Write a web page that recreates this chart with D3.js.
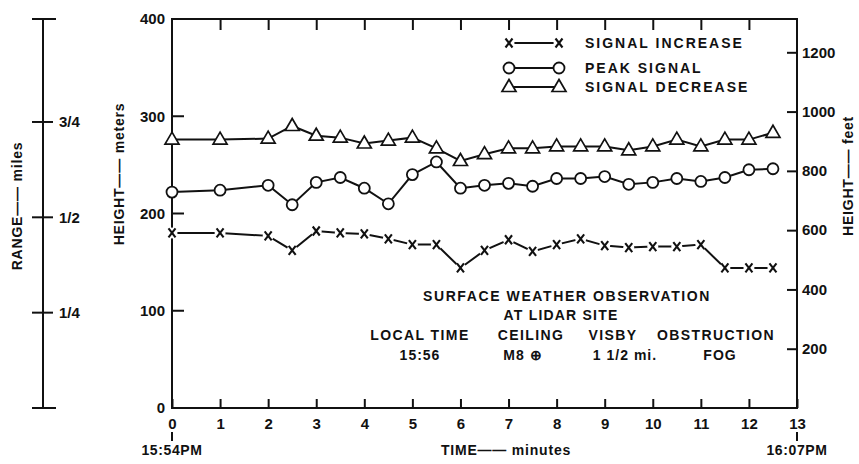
<!DOCTYPE html>
<html>
<head>
<meta charset="utf-8">
<script src="https://cdn.jsdelivr.net/npm/d3@7"></script>
<style>
  html, body { margin: 0; padding: 0; background: #fff; }
  svg text { font-family: "Liberation Sans", Arial, sans-serif; font-weight: bold; fill: #111; }
</style>
</head>
<body>
<svg id="chart" width="859" height="464"></svg>
<script>
// ---------- data ----------
const minutes = [0, 1, 2, 2.5, 3, 3.5, 4, 4.5, 5, 5.5, 6, 6.5, 7, 7.5, 8, 8.5, 9, 9.5, 10, 10.5, 11, 11.5, 12, 12.5];
const signalIncrease = [180, 180, 177, 162, 182, 180, 179, 174, 168, 168, 144, 162, 173, 161, 168, 174, 167, 165, 166, 166, 168, 144, 144, 144];
const peakSignal     = [222, 224, 229, 209, 232, 237, 226, 210, 240, 253, 226, 229, 231, 228, 236, 236, 238, 230, 232, 236, 233, 237, 245, 246];
const signalDecrease = [276, 276, 277, 290, 280, 278, 272, 275, 278, 267, 254, 261, 267, 267, 269, 269, 269, 265, 269, 276, 269, 276, 276, 283];

const xTicks = [0, 1, 2, 3, 4, 5, 6, 7, 8, 9, 10, 11, 12, 13];
const meterTicks = [0, 100, 200, 300, 400];
const feetTicks = [200, 400, 600, 800, 1000, 1200];
const rangeTicks = [0.25, 0.5, 0.75];
const rangeTickLabels = ["1/4", "1/2", "3/4"];
const legendLabels = ["SIGNAL INCREASE", "PEAK SIGNAL", "SIGNAL DECREASE"];
const obsHeaders = ["LOCAL TIME", "CEILING", "VISBY", "OBSTRUCTION"];
const obsValues = ["15:56", "M8 \u2295", "1 1/2 mi.", "FOG"];

// ---------- layout ----------
const svg = d3.select("#chart");
const L = 172, R = 797, T = 19, B = 408;
const x = d3.scaleLinear().domain([0, 13]).range([L, R]);
const y = d3.scaleLinear().domain([0, 400]).range([B, T]);
const yFeet = d3.scaleLinear().domain([0, 400 * 3.28084]).range([B, T]);
const yRange = d3.scaleLinear().domain([0, 1.02]).range([B, T]);

const ink = "#111";
const sw = 2;
const FS = 14;      // lettering
const NS = 15;      // numerals

// frame
svg.append("rect").attr("x", L).attr("y", T).attr("width", R - L).attr("height", B - T)
  .attr("fill", "none").attr("stroke", ink).attr("stroke-width", sw);

// bottom axis (ticks inside)
const gB = svg.append("g").attr("transform", `translate(0,${B})`)
  .call(d3.axisBottom(x).tickValues(xTicks).tickSize(-9).tickPadding(8).tickFormat(d3.format("d")));
gB.select(".domain").remove();
gB.selectAll("line").attr("stroke", ink).attr("stroke-width", sw);
gB.selectAll("text").attr("font-size", NS).attr("dy", "0.85em").attr("fill", ink)
  .style("font-family", "Liberation Sans").style("font-weight", "bold");

// top axis ticks (inside)
const gT = svg.append("g").attr("transform", `translate(0,${T})`)
  .call(d3.axisTop(x).tickValues(xTicks.slice(1, -1)).tickSize(-11).tickFormat(""));
gT.select(".domain").remove();
gT.selectAll("line").attr("stroke", ink).attr("stroke-width", sw);

// left axis meters
const gL = svg.append("g").attr("transform", `translate(${L},0)`)
  .call(d3.axisLeft(y).tickValues(meterTicks).tickSize(0).tickPadding(7));
gL.select(".domain").remove();
gL.selectAll("text").attr("font-size", NS).attr("fill", ink)
  .style("font-family", "Liberation Sans").style("font-weight", "bold");
svg.append("g").selectAll("line").data(meterTicks.slice(1, -1)).join("line")
  .attr("x1", L).attr("x2", L + 12).attr("y1", d => y(d)).attr("y2", d => y(d))
  .attr("stroke", ink).attr("stroke-width", sw);

// right axis feet
const gR = svg.append("g").attr("transform", `translate(${R},0)`)
  .call(d3.axisRight(yFeet).tickValues(feetTicks).tickSize(-10).tickPadding(6).tickFormat(d3.format("d")));
gR.select(".domain").remove();
gR.selectAll("line").attr("stroke", ink).attr("stroke-width", sw);
gR.selectAll("text").attr("font-size", NS).attr("x", 5).attr("fill", ink)
  .style("font-family", "Liberation Sans").style("font-weight", "bold");

// time markers under 0 and 13
const timeLabels = [[0, "15:54PM"], [13, "16:07PM"]];
svg.append("g").selectAll("line").data(timeLabels).join("line")
  .attr("x1", d => x(d[0])).attr("x2", d => x(d[0])).attr("y1", 432).attr("y2", 441)
  .attr("stroke", ink).attr("stroke-width", sw);
svg.append("g").selectAll("text").data(timeLabels).join("text")
  .attr("x", d => x(d[0])).attr("y", 455).attr("text-anchor", "middle")
  .attr("font-size", FS).attr("letter-spacing", 0.6).text(d => d[1]);

// axis titles
svg.append("text").attr("x", 506).attr("y", 455).attr("text-anchor", "middle")
  .attr("font-size", FS).attr("letter-spacing", 0.8).text("TIME\u2014\u2014 minutes");
svg.append("text").attr("transform", "translate(124,174) rotate(-90)").attr("text-anchor", "middle")
  .attr("font-size", FS).attr("letter-spacing", 0.8).text("HEIGHT\u2014\u2014 meters");
svg.append("text").attr("transform", "translate(853,176) rotate(-90)").attr("text-anchor", "middle")
  .attr("font-size", FS).attr("letter-spacing", 0.8).text("HEIGHT\u2014\u2014 feet");
svg.append("text").attr("transform", "translate(22,206) rotate(-90)").attr("text-anchor", "middle")
  .attr("font-size", FS).attr("letter-spacing", 0.8).text("RANGE\u2014\u2014 miles");

// range axis
const RX = 43;
svg.append("line").attr("x1", RX).attr("x2", RX).attr("y1", yRange(0)).attr("y2", yRange(1.02))
  .attr("stroke", ink).attr("stroke-width", sw);
svg.append("g").selectAll("line").data([0, 1.02]).join("line")
  .attr("x1", RX - 11).attr("x2", RX + 13).attr("y1", d => yRange(d)).attr("y2", d => yRange(d))
  .attr("stroke", ink).attr("stroke-width", sw);
svg.append("g").selectAll("line").data(rangeTicks).join("line")
  .attr("x1", RX - 11).attr("x2", RX + 10).attr("y1", d => yRange(d)).attr("y2", d => yRange(d))
  .attr("stroke", ink).attr("stroke-width", sw);
svg.append("g").selectAll("text").data(rangeTicks).join("text")
  .attr("x", RX + 16).attr("y", d => yRange(d)).attr("dy", "0.36em")
  .attr("font-size", NS).text((d, i) => rangeTickLabels[i]);

// ---------- series ----------
const series = [
  { name: legendLabels[0], values: signalIncrease, marker: "x" },
  { name: legendLabels[1], values: peakSignal, marker: "o" },
  { name: legendLabels[2], values: signalDecrease, marker: "t" }
];
const line = d3.line().x(d => x(d[0])).y(d => y(d[1]));

function drawMarker(g, type) {
  if (type === "x") {
    g.append("circle").attr("r", 5.5).attr("fill", "#fff");
    g.append("path").attr("d", "M-3.5,-4.5L3.5,4.5M3.5,-4.5L-3.5,4.5")
      .attr("stroke", ink).attr("stroke-width", 2.1).attr("fill", "none");
  } else if (type === "o") {
    g.append("circle").attr("r", 5.5).attr("fill", "#fff").attr("stroke", ink).attr("stroke-width", 1.8);
  } else {
    g.append("path").attr("d", "M0,-7.5L7,4.5L-7,4.5Z")
      .attr("fill", "#fff").attr("stroke", ink).attr("stroke-width", 1.7).attr("stroke-linejoin", "miter");
  }
}

series.forEach(s => {
  const pts = minutes.map((m, i) => [m, s.values[i]]);
  svg.append("path").datum(pts).attr("d", line)
    .attr("fill", "none").attr("stroke", ink).attr("stroke-width", sw);
  svg.append("g").selectAll("g").data(pts).join("g")
    .attr("transform", d => `translate(${x(d[0])},${y(d[1])})`)
    .each(function () { drawMarker(d3.select(this), s.marker); });
});

// ---------- legend ----------
const legY = [43, 68, 87];
series.forEach((s, i) => {
  const g = svg.append("g");
  g.append("line").attr("x1", 509).attr("x2", 559).attr("y1", legY[i]).attr("y2", legY[i])
    .attr("stroke", ink).attr("stroke-width", sw);
  [509, 559].forEach(px => {
    const m = g.append("g").attr("transform", `translate(${px},${legY[i]})`);
    drawMarker(m, s.marker);
  });
  g.append("text").attr("x", 585).attr("y", legY[i]).attr("dy", "0.36em")
    .attr("font-size", FS).attr("letter-spacing", 2).text(s.name);
});

// ---------- observation note ----------
svg.append("text").attr("x", 567).attr("y", 296).attr("dy", "0.36em").attr("text-anchor", "middle")
  .attr("font-size", FS).attr("letter-spacing", 1.6).text("SURFACE WEATHER OBSERVATION");
svg.append("text").attr("x", 561).attr("y", 315).attr("dy", "0.36em").attr("text-anchor", "middle")
  .attr("font-size", FS).attr("letter-spacing", 1.2).text("AT LIDAR SITE");
const colX = [420, 531, 613, 716];
const valX = [420, 523, 625, 720];
svg.append("g").selectAll("text").data(obsHeaders).join("text")
  .attr("x", (d, i) => colX[i]).attr("y", 335).attr("dy", "0.36em").attr("text-anchor", "middle")
  .attr("font-size", FS).attr("letter-spacing", 1.4).text(d => d);
svg.append("g").selectAll("text").data(obsValues).join("text")
  .attr("x", (d, i) => valX[i]).attr("y", 355).attr("dy", "0.36em").attr("text-anchor", "middle")
  .attr("font-size", FS).attr("letter-spacing", 1).text(d => d);
</script>
</body>
</html>
